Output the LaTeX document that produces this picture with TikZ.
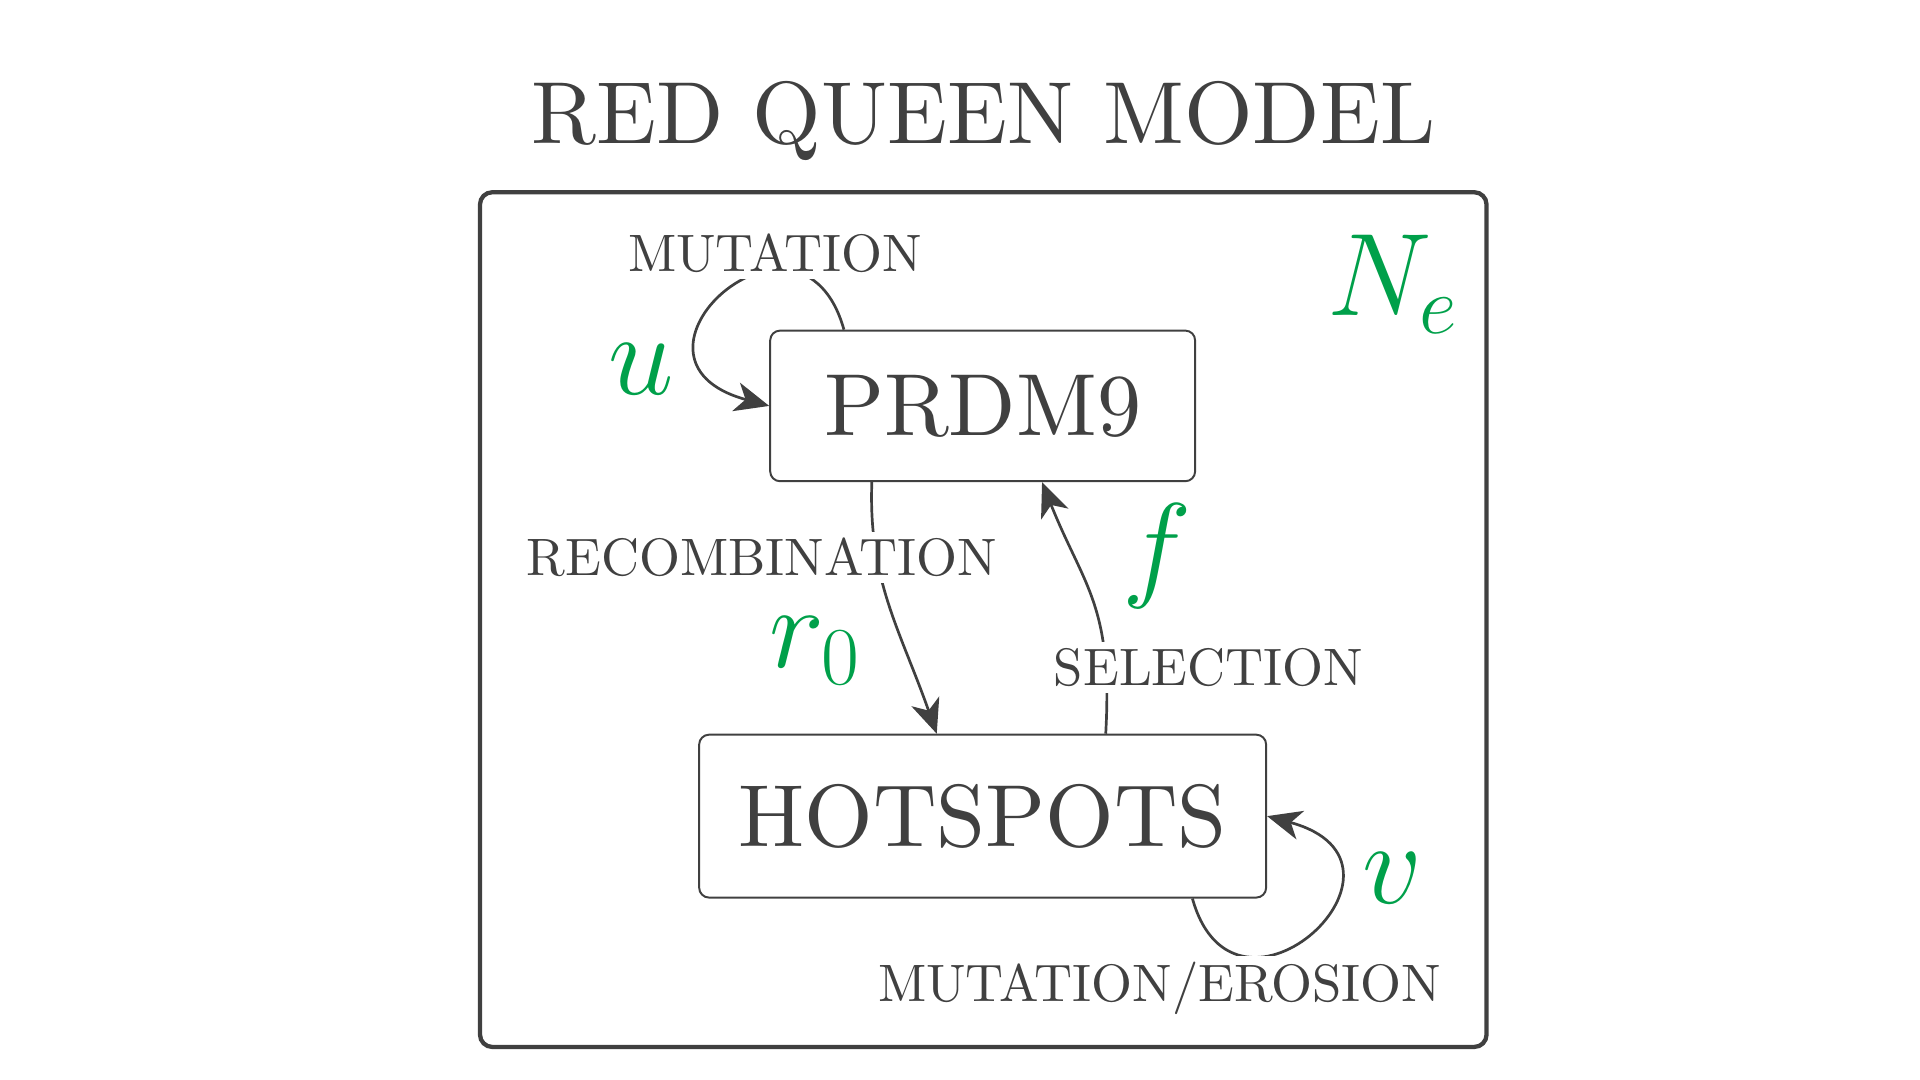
\RequirePackage{fix-cm}
\documentclass[tikz,border=0pt]{standalone}
\usepackage{fontspec}
\setmainfont{lmroman10-regular}[Extension=.otf]
\usetikzlibrary{arrows.meta, positioning}
\definecolor{inkgray}{HTML}{404040}
\definecolor{paramgreen}{HTML}{00A04A}

\begin{document}
\begin{tikzpicture}[
    x=1pt, y=-1pt,
    box/.style={rectangle, draw=inkgray, line width=1.6pt, rounded corners=8pt, text=inkgray, font=\fontsize{72}{90}\selectfont},
    proc/.style={anchor=base, text=inkgray, fill=white, inner sep=5pt, font=\fontsize{43}{50}\selectfont},
    param/.style={anchor=base, text=paramgreen, font=\fontsize{96}{100}\selectfont},
    arrow/.style={-{Stealth[length=28pt, width=24pt, inset=8pt]}, line width=2.2pt, draw=inkgray},
]
\useasboundingbox (0,0) rectangle (1568,882);

% Title and frame
\node[anchor=base, text=inkgray, font=\fontsize{72}{85}\selectfont] (title) at (803,117) {RED QUEEN MODEL};
\draw[inkgray, line width=3.5pt, rounded corners=10pt] (392,157) rectangle (1214,855);

% Boxes
\node[box, minimum width=347pt, minimum height=123pt] (prdm) at (802.5,331.5) {PRDM9};
\node[box, minimum width=463pt, minimum height=133pt] (hot) at (802.5,666.5) {HOTSPOTS};

% Arrows
\draw[arrow] ([xshift=61pt]prdm.north west) .. controls +(-35,-125) and +(-140,-38) .. (prdm.west);
\draw[arrow] ([xshift=-61pt]hot.south east) .. controls +(35,125) and +(140,38) .. (hot.east);
\draw[arrow] ([xshift=-90.5pt]prdm.south) .. controls +(-3,80) and +(-30,-85) .. ([xshift=-37.5pt]hot.north);
\draw[arrow] ([xshift=100.5pt]hot.north) .. controls +(6,-105) and +(34,85) .. ([xshift=48.5pt]prdm.south);

% Process labels
\node[proc] (mut) at (633,222) {MUTATION};
\node[proc] (recomb) at (622,470) {RECOMBINATION};
\node[proc] (sel) at (987,560) {SELECTION};
\node[proc] (eros) at (947,818) {MUTATION/EROSION};

% Parameters
\node[param] (u) at (524,322) {$u$};
\node[param] (ne) at (1137,258) {$N_e$};
\node[param] (f) at (945,478) {$f$};
\node[param] (r) at (665,545) {$r_0$};
\node[param] (v) at (1137,738) {$v$};

\end{tikzpicture}
\end{document}
